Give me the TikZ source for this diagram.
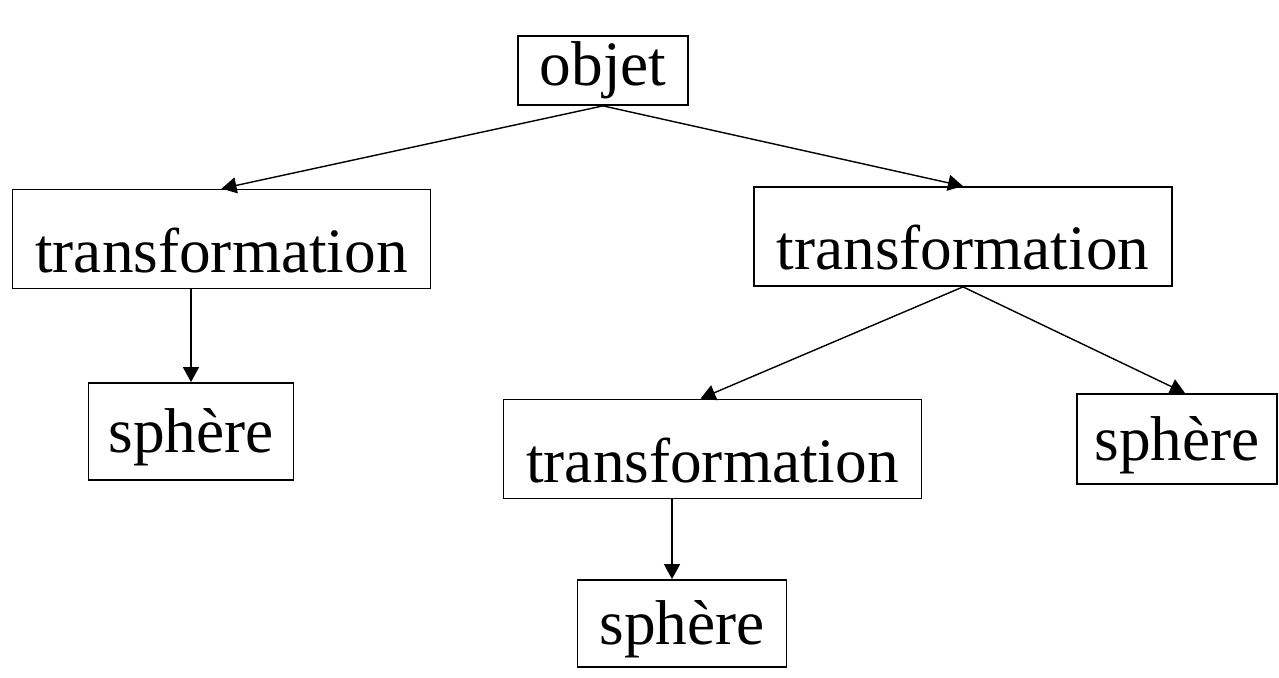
\documentclass[tikz,border=0pt]{standalone}
\usepackage{fontspec}
\setmainfont{Liberation Serif}
\usepackage{tikz}
\usetikzlibrary{arrows.meta}
\tikzset{
  block/.style={draw=black, line width=1pt, inner sep=0pt, align=center,
    font=\fontsize{36}{40}\selectfont},
  tbox/.style={block, minimum width=8.36cm, minimum height=1.98cm,
    text height=1.32cm, text depth=0pt},
  sbox/.style={block, minimum width=4.1cm, text height=0.84cm, text depth=0pt},
  arr/.style={-{Triangle[length=3mm,width=3.2mm]}, line width=0.8pt}
}
\begin{document}
\begin{tikzpicture}[x=0.2mm, y=-0.2mm]
  \useasboundingbox (0,0) rectangle (1279,678);

  \node[block, minimum width=3.4cm, minimum height=1.38cm] (obj) at (603,70.5) {objet};

  \node[tbox] (trL) at (221.5,239) {transformation};
  \node[tbox] (trR) at (963,236.5) {transformation};
  \node[tbox] (trM) at (712.5,449) {transformation};

  \node[sbox, minimum height=1.94cm] (sphL) at (191,431.5) {sphère};
  \node[sbox, minimum width=4.0cm, minimum height=1.8cm] (sphR) at (1177,439) {sphère};
  \node[sbox, minimum width=4.18cm, minimum height=1.74cm] (sphB) at (682,623.5) {sphère};

  \draw[arr] (obj.south) -- (trL.north);
  \draw[arr] (obj.south) -- (trR.north);
  \draw[arr] (sphL.north |- trL.south) -- (sphL.north);
  \draw[arr] (trR.south) -- ([xshift=-0.24cm]trM.north);
  \draw[arr] (trR.south) -- ([xshift=0.16cm]sphR.north);
  \draw[arr] ([xshift=-0.2cm]sphB.north |- trM.south) -- ([xshift=-0.2cm]sphB.north);
\end{tikzpicture}
\end{document}
